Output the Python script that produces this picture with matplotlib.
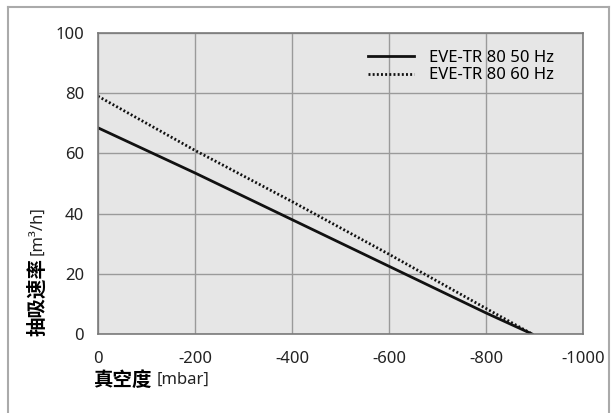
import numpy as np
import matplotlib.pyplot as plt
from matplotlib.lines import Line2D

plt.rcParams['font.family'] = ['Noto Sans', 'Noto Sans CJK SC', 'DejaVu Sans']

# vacuum [mbar] vs suction rate [m3/h]
vac = [0, -200, -400, -600, -800, -895]
q_50 = [68.5, 53.5, 38, 22.5, 7, 0]
q_60 = [79, 61, 44, 26.5, 8.5, 0]
labels = ['EVE-TR 80 50 Hz', 'EVE-TR 80 60 Hz']
xticks = [0, -200, -400, -600, -800, -1000]
yticks = [0, 20, 40, 60, 80, 100]

fig = plt.figure(figsize=(6.15, 4.13), dpi=100)
ax = fig.add_axes([98/615, 1 - 334/413, 485/615, 301/413])
ax.set_facecolor('#e6e6e6')

ax.plot(vac, q_50, color='#111111', lw=2.0, label=labels[0])
ax.plot(vac, q_60, color='#111111', lw=2.0, ls=(0, (0.7, 0.8)), label=labels[1])

ax.set_xlim(0, -1000)
ax.set_ylim(0, 100)
ax.set_xticks(xticks)
ax.set_yticks(yticks)
ax.set_xticklabels([str(v) for v in xticks])
ax.grid(True, color='#9a9a9a', lw=1)
ax.set_axisbelow(True)
ax.tick_params(length=0, labelsize=12, colors='#222222')
ax.tick_params(axis='x', pad=12)
ax.tick_params(axis='y', pad=10)
for s in ax.spines.values():
    s.set_color('#7a7a7a')
    s.set_linewidth(1.2)

leg = ax.legend(loc='upper right', frameon=False, fontsize=12, handlelength=2.8,
                borderaxespad=0.6, labelspacing=0.1, handletextpad=0.9,
                bbox_to_anchor=(0.975, 1))

cjk = ['Noto Sans CJK SC', 'DejaVu Sans']
t1 = fig.text(38/615, 1 - 336/413, '抽吸速率', rotation=90, ha='center', va='bottom',
              fontsize=14, family=cjk, fontweight='bold')
ax.annotate('[m³/h]', xy=(0.5, 1), xycoords=t1, xytext=(0, 2), textcoords='offset points',
            rotation=90, ha='center', va='bottom', fontsize=12, color='#222222')
t2 = fig.text(93/615, 1 - 380/413, '真空度', ha='left', va='center',
              fontsize=14, family=cjk, fontweight='bold')
ax.annotate('[mbar]', xy=(1, 0.5), xycoords=t2, xytext=(4, 0), textcoords='offset points',
            ha='left', va='center', fontsize=12, color='#222222')

# outer frame
fr = dict(color='#aaaaaa', lw=1.5, transform=fig.transFigure)
fig.add_artist(Line2D([8/615, 8/615], [0, 1 - 7/413], **fr))
fig.add_artist(Line2D([8/615, 609/615], [1 - 7/413, 1 - 7/413], **fr))
fig.add_artist(Line2D([609/615, 609/615], [0, 1 - 7/413], **fr))

fig.savefig('out.png', dpi=100)
